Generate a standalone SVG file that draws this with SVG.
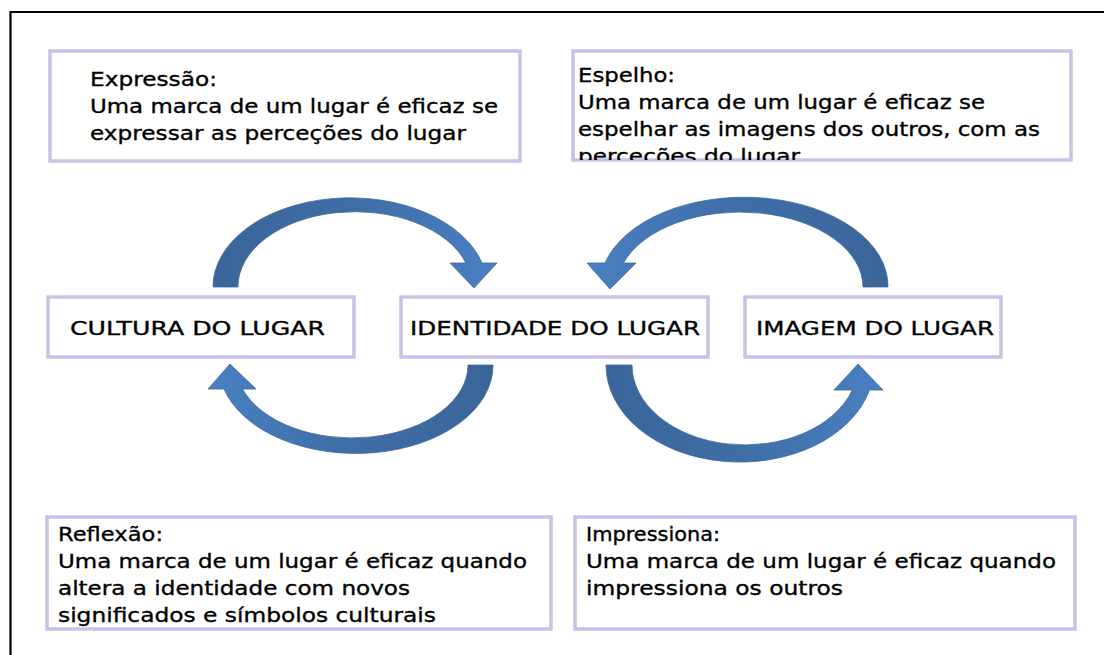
<svg xmlns="http://www.w3.org/2000/svg" width="1104" height="655" viewBox="0 0 1104 655">
  <style>
    .box { fill: #ffffff; stroke: #c9c1e6; stroke-width: 3.5; }
    .t { font-family: "DejaVu Sans", "Liberation Sans", sans-serif; font-size: 20px; fill: #000000; stroke: #000000; stroke-width: 0.35; }
    .arrow { stroke: #3d6a9e; stroke-width: 0.8; stroke-linejoin: round; }
  </style>
  <defs>
    <linearGradient id="gL2R" x1="0" y1="0" x2="1" y2="0">
      <stop offset="0" stop-color="#3a6599"/>
      <stop offset="0.55" stop-color="#3f6fa8"/>
      <stop offset="1" stop-color="#4a80c3"/>
    </linearGradient>
    <linearGradient id="gR2L" x1="1" y1="0" x2="0" y2="0">
      <stop offset="0" stop-color="#3a6599"/>
      <stop offset="0.55" stop-color="#3f6fa8"/>
      <stop offset="1" stop-color="#4a80c3"/>
    </linearGradient>
    <clipPath id="clip2"><rect x="573" y="50" width="498" height="110"/></clipPath>
    <clipPath id="clip6"><rect x="47" y="516" width="504" height="112"/></clipPath>
  </defs>

  <rect x="0" y="0" width="1104" height="655" fill="#ffffff"/>
  <!-- outer frame -->
  <path d="M10.5,655 L10.5,12 L1104,12" fill="none" stroke="#000000" stroke-width="2.2"/>

  <g id="connectors">
    <path class="arrow" fill="url(#gL2R)" d="M213,287 A137,89 0 0 1 482,263 L497,263 L474,288 L450,263 L466,263 A117,75 0 0 0 238,287 Z"/>
    <path class="arrow" fill="url(#gR2L)" d="M888,287 A144,89 0 0 0 605,263 L587,263 L610,289 L636,263 L623.5,263 A123,75 0 0 1 863,287 Z"/>
    <path class="arrow" fill="url(#gR2L)" d="M493,365 A137,88 0 0 1 224,389 L208,389 L230,364 L256,389 L242.5,389 A116,73 0 0 0 468,365 Z"/>
    <path class="arrow" fill="url(#gL2R)" d="M606,365 A134,97 0 0 0 869.5,390 L883,390 L858,364 L834,390 L852.3,390 A113,80 0 0 1 632,365 Z"/>
  </g>

  <g id="expressao">
    <rect class="box" x="50" y="51" width="470" height="110"/>
    <text class="t" x="90" y="86" textLength="127" lengthAdjust="spacingAndGlyphs">Expressão:</text>
    <text class="t" x="90" y="113" textLength="408" lengthAdjust="spacingAndGlyphs">Uma marca de um lugar é eficaz se</text>
    <text class="t" x="90" y="140" textLength="376" lengthAdjust="spacingAndGlyphs">expressar as perceções do lugar</text>
  </g>

  <g id="espelho">
    <rect class="box" x="573" y="51" width="498" height="109"/>
    <g clip-path="url(#clip2)">
      <text class="t" x="578" y="82" textLength="97" lengthAdjust="spacingAndGlyphs">Espelho:</text>
      <text class="t" x="578" y="109" textLength="407" lengthAdjust="spacingAndGlyphs">Uma marca de um lugar é eficaz se</text>
      <text class="t" x="578" y="136" textLength="462" lengthAdjust="spacingAndGlyphs">espelhar as imagens dos outros, com as</text>
      <text class="t" x="578" y="163" textLength="222" lengthAdjust="spacingAndGlyphs">perceções do lugar</text>
    </g>
  </g>

  <g id="cultura">
    <rect class="box" x="48" y="297" width="306" height="60"/>
    <text class="t" x="70" y="335" textLength="255" lengthAdjust="spacingAndGlyphs">CULTURA DO LUGAR</text>
  </g>

  <g id="identidade">
    <rect class="box" x="401" y="297" width="307" height="60"/>
    <text class="t" x="410" y="335" textLength="290" lengthAdjust="spacingAndGlyphs">IDENTIDADE DO LUGAR</text>
  </g>

  <g id="imagem">
    <rect class="box" x="745" y="297" width="256" height="60"/>
    <text class="t" x="756" y="335" textLength="238" lengthAdjust="spacingAndGlyphs">IMAGEM DO LUGAR</text>
  </g>

  <g id="reflexao">
    <rect class="box" x="47" y="517" width="504" height="112"/>
    <g clip-path="url(#clip6)">
      <text class="t" x="58" y="541" textLength="105" lengthAdjust="spacingAndGlyphs">Reflexão:</text>
      <text class="t" x="58" y="568" textLength="469" lengthAdjust="spacingAndGlyphs">Uma marca de um lugar é eficaz quando</text>
      <text class="t" x="58" y="595" textLength="352" lengthAdjust="spacingAndGlyphs">altera a identidade com novos</text>
      <text class="t" x="58" y="622" textLength="378" lengthAdjust="spacingAndGlyphs">significados e símbolos culturais</text>
    </g>
  </g>

  <g id="impressiona">
    <rect class="box" x="575" y="517" width="500" height="112"/>
    <text class="t" x="586" y="541" textLength="134" lengthAdjust="spacingAndGlyphs">Impressiona:</text>
    <text class="t" x="586" y="568" textLength="470" lengthAdjust="spacingAndGlyphs">Uma marca de um lugar é eficaz quando</text>
    <text class="t" x="586" y="595" textLength="257" lengthAdjust="spacingAndGlyphs">impressiona os outros</text>
  </g>
</svg>
